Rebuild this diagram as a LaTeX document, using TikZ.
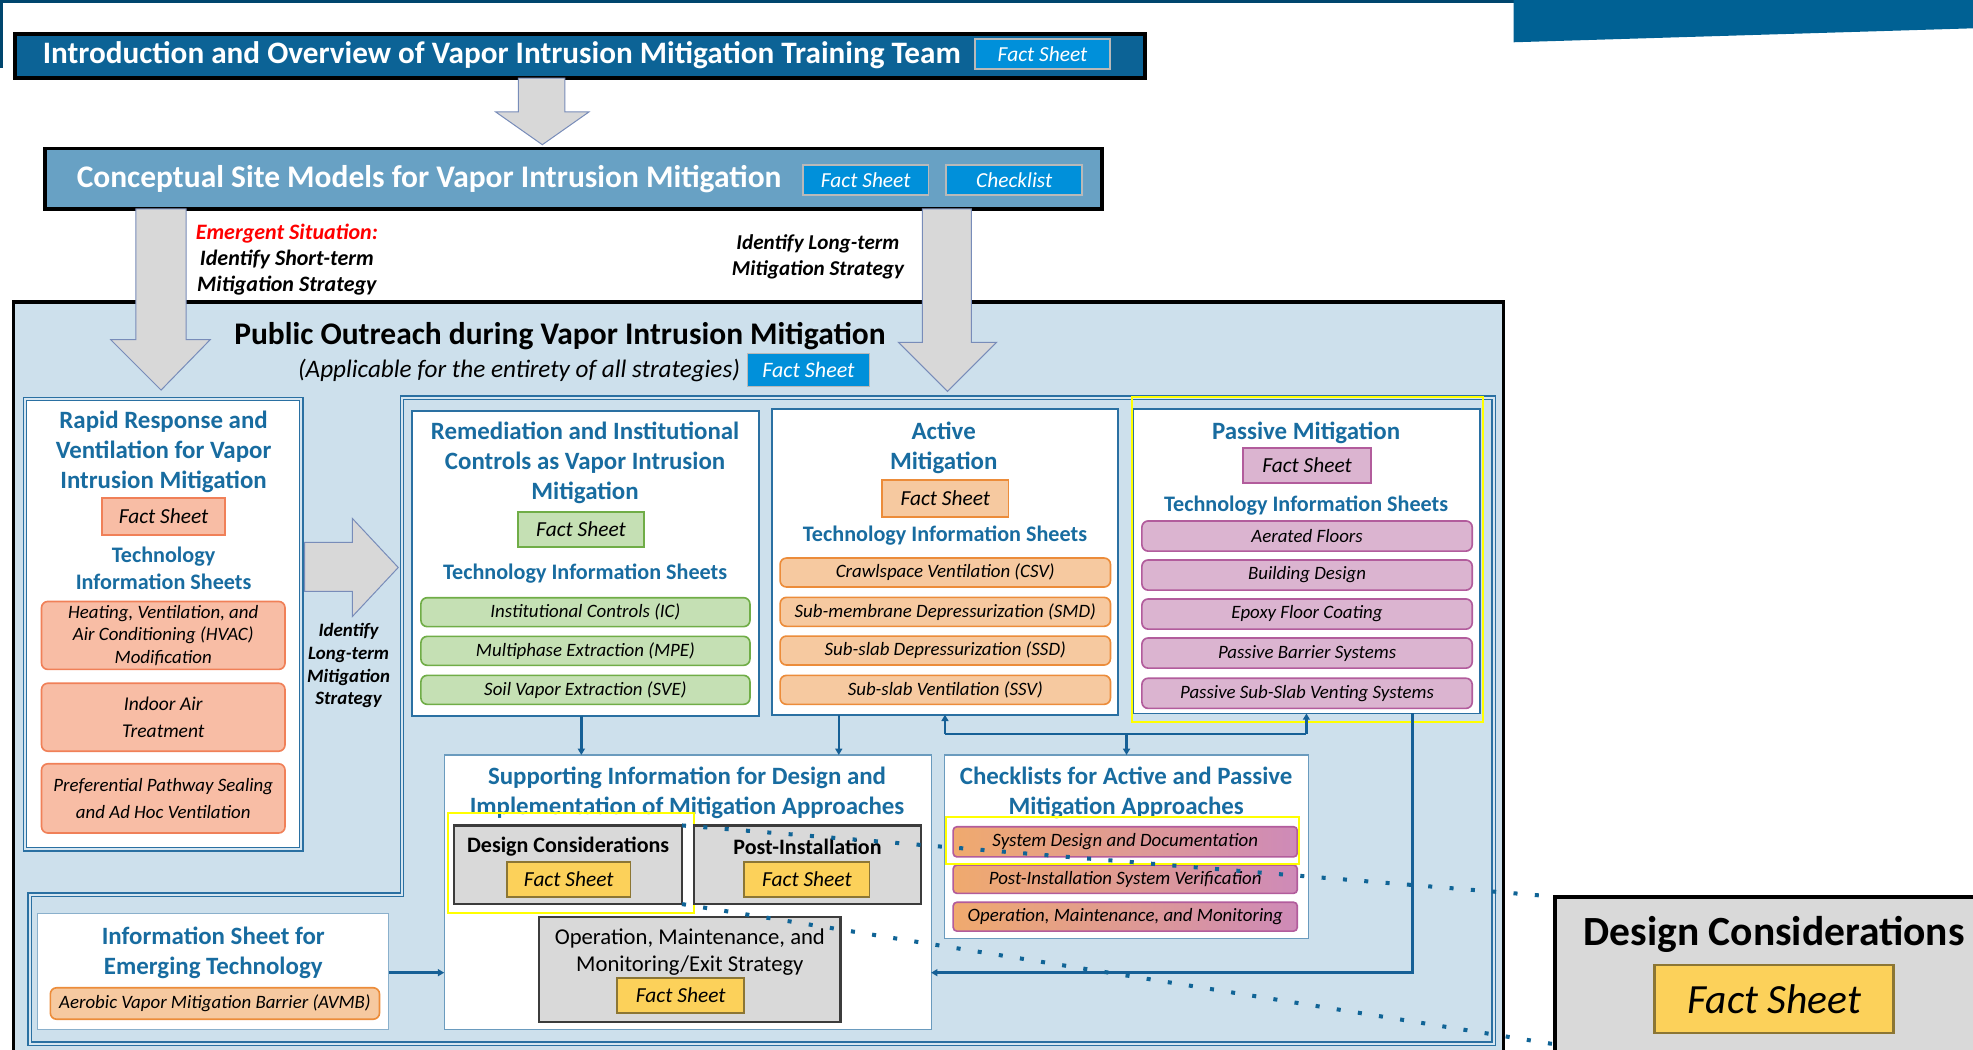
\documentclass[tikz,border=0pt]{standalone}
\usepackage{fontspec}
\setmainfont{Carlito}
\usetikzlibrary{arrows.meta,calc}
\definecolor{navy}{RGB}{0,70,110}
\definecolor{banner}{RGB}{0,97,148}
\definecolor{introfill}{RGB}{12,99,150}
\definecolor{csmfill}{RGB}{104,161,196}
\definecolor{btnblue}{RGB}{0,144,218}
\definecolor{bgblue}{RGB}{205,224,236}
\definecolor{framecol}{RGB}{42,112,162}
\definecolor{gapcol}{RGB}{214,230,241}
\definecolor{titleblue}{RGB}{24,108,160}
\definecolor{connblue}{RGB}{22,96,150}
\definecolor{salmonF}{RGB}{248,189,165}
\definecolor{salmonD}{RGB}{240,128,88}
\definecolor{greenF}{RGB}{197,224,180}
\definecolor{greenD}{RGB}{112,173,71}
\definecolor{peachF}{RGB}{246,201,160}
\definecolor{peachD}{RGB}{236,140,58}
\definecolor{pinkF}{RGB}{219,180,208}
\definecolor{pinkD}{RGB}{178,92,156}
\definecolor{grayF}{RGB}{217,217,217}
\definecolor{grayD}{RGB}{60,60,60}
\definecolor{goldF}{RGB}{252,209,90}
\definecolor{goldD}{RGB}{140,118,52}
\definecolor{arrowF}{RGB}{216,216,216}
\definecolor{arrowD}{RGB}{120,140,185}
\definecolor{dotcol}{RGB}{16,100,150}
\definecolor{gradL}{RGB}{240,170,110}
\definecolor{gradR}{RGB}{206,138,184}
\definecolor{emred}{RGB}{255,0,0}
\definecolor{hilite}{RGB}{255,255,0}
\newcommand\fsz[2]{\fontsize{#1}{#2}\selectfont}
\begin{document}
\begin{tikzpicture}[x=1pt,y=-1pt,
  every node/.style={inner sep=0pt, outer sep=0pt},
  hbtn/.style={fill=btnblue, draw=gray!55, line width=1.2pt, text=white, font=\fsz{17}{19}\itshape},
  garrow/.style={fill=arrowF, draw=arrowD, line width=0.8pt, line join=miter},
  panel/.style={draw=framecol, line width=1.4pt, fill=white},
  dpanel/.style={draw=framecol, line width=1pt, double=gapcol, double distance=1.6pt, fill=white},
  ptitle/.style={text=titleblue, font=\fsz{19.8}{24}\bfseries, align=center},
  tis/.style={text=titleblue, font=\fsz{17.6}{21}\bfseries, align=center},
  item/.style={rounded corners=5pt, line width=1.3pt, align=center, font=\fsz{15}{18}\itshape},
  fsbox/.style={line width=1.3pt, font=\fsz{17}{19}\itshape},
  salmon/.style={fill=salmonF, draw=salmonD},
  green/.style={fill=greenF, draw=greenD},
  peach/.style={fill=peachF, draw=peachD},
  pink/.style={fill=pinkF, draw=pinkD},
  graybox/.style={fill=grayF, draw=grayD, line width=1.8pt},
  goldfs/.style={fill=goldF, draw=goldD, line width=1.3pt, font=\fsz{17}{19}\itshape},
  conn/.style={draw=connblue, line width=2pt, -{Triangle[length=5pt,width=5.5pt]}},
  plain/.style={draw=connblue, line width=2pt},
  hl/.style={draw=hilite, line width=1.5pt},
  dots/.style={draw=dotcol, line width=3.2pt, dash pattern=on 3.2pt off 13.8pt}
]
\useasboundingbox (0,0) rectangle (1568,834);
% top decoration
\fill[navy] (0,0) rectangle (1203,2.5);
\fill[navy] (0,0) rectangle (2,54);
\fill[banner] (1203,0) -- (1568,0) -- (1568,22.5) -- (1203,33.6) -- cycle;

% intro
\node[draw=black, line width=2.6pt, fill=introfill, minimum width=898pt, minimum height=35pt] (intro) at (461,44.5) {};
\node[anchor=west, font=\fsz{24.8}{26}\bfseries, text=white] (introtxt) at (34,44) {Introduction and Overview of Vapor Intrusion Mitigation Training Team};
\node[hbtn, minimum width=107pt, minimum height=24pt] (introfs) at (828.5,43) {Fact Sheet};

\draw[garrow] (412,62) -- (449,62) -- (449,89) -- (468,89) -- (431,115) -- (394,89) -- (412,89) -- cycle;

% CSM
\node[draw=black, line width=3pt, fill=csmfill, minimum width=840pt, minimum height=48pt] (csm) at (456,142) {};
\node[anchor=west, font=\fsz{25}{27}\bfseries, text=white] (csmtxt) at (61,142) {Conceptual Site Models for Vapor Intrusion Mitigation};
\node[hbtn, minimum width=100pt, minimum height=24pt] (csmfs) at (688,143) {Fact Sheet};
\node[hbtn, minimum width=108pt, minimum height=24pt] (csmck) at (806,143) {Checklist};

% outer public outreach box
\node[draw=black, line width=2.6pt, fill=bgblue, minimum width=1184pt, minimum height=620pt, anchor=north west] (outer) at (11,240) {};
\draw[framecol, line width=1pt, double=gapcol, double distance=1.6pt] (319.5,316) -- (1187,316) -- (1187,829.5) -- (23.5,829.5) -- (23.5,711) -- (319.5,711) -- cycle;

% big arrows
\draw[garrow] (108,166) -- (148,166) -- (148,270) -- (167,270) -- (128,310) -- (88,270) -- (108,270) -- cycle;
\draw[garrow] (733,166) -- (772,166) -- (772,272) -- (792,272) -- (753,311) -- (714,272) -- (733,272) -- cycle;

\node[font=\fsz{17.5}{20.7}\bfseries\itshape, align=center] (emerg) at (228,206) {\textcolor{emred}{Emergent Situation:}\\Identify Short-term\\Mitigation Strategy};
\node[font=\fsz{16.8}{20.7}\bfseries\itshape, align=center] (longt) at (650,204) {Identify Long-term\\Mitigation Strategy};

\node[font=\fsz{25}{27}\bfseries] (potitle) at (445,267.5) {Public Outreach during Vapor Intrusion Mitigation};
\node[font=\fsz{20}{22}\itshape] (poapp) at (412.5,294.5) {(Applicable for the entirety of all strategies)};
\node[hbtn, minimum width=97pt, minimum height=26pt, font=\fsz{17.5}{19}\itshape] (pofs) at (642.5,294) {Fact Sheet};

% Rapid response panel
\node[dpanel, minimum width=219.5pt, minimum height=358pt] (rapid) at (129.75,496) {};
\node[ptitle] (rapidt) at (130,359) {Rapid Response and\\Ventilation for Vapor\\Intrusion Mitigation};
\node[fsbox, salmon, minimum width=98pt, minimum height=29pt] (rapidfs) at (130,410.5) {Fact Sheet};
\node[tis] (rapidtis) at (130,451.5) {Technology\\Information Sheets};
\node[item, salmon, minimum width=193.5pt, minimum height=54pt, font=\fsz{15}{18}\itshape] (hvac) at (129.75,505) {Heating, Ventilation, and\\Air Conditioning (HVAC)\\Modification};
\node[item, salmon, minimum width=193.5pt, minimum height=54pt, font=\fsz{15.5}{21}\itshape] (indoor) at (129.75,570) {Indoor Air\\Treatment};
\node[item, salmon, minimum width=193.5pt, minimum height=55pt, font=\fsz{15}{21}\itshape] (pref) at (129.75,634.5) {Preferential Pathway Sealing\\and Ad Hoc Ventilation};

\draw[garrow] (242,431) -- (280,431) -- (280,412) -- (316.5,451) -- (280,490) -- (280,470) -- (242,470) -- cycle;
\node[font=\fsz{15}{18}\bfseries\itshape, align=center] (longt2) at (277,529) {Identify\\Long-term\\Mitigation\\Strategy};

% Remediation panel
\node[panel, minimum width=275.5pt, minimum height=242.5pt] (rem) at (465.25,447.75) {};
\node[ptitle] (remt) at (465,368) {Remediation and Institutional\\Controls as Vapor Intrusion\\Mitigation};
\node[fsbox, green, minimum width=100.5pt, minimum height=27.5pt] (remfs) at (461.75,420.75) {Fact Sheet};
\node[tis] (remtis) at (465,456) {Technology Information Sheets};
\node[item, green, minimum width=261.5pt, minimum height=23pt] (ic) at (465.25,486.5) {Institutional Controls (IC)};
\node[item, green, minimum width=261.5pt, minimum height=23pt] (mpe) at (465.25,517.25) {Multiphase Extraction (MPE)};
\node[item, green, minimum width=261.5pt, minimum height=23pt] (sve) at (465.25,548.25) {Soil Vapor Extraction (SVE)};

% Active panel
\node[panel, minimum width=275pt, minimum height=243pt] (active) at (751,446.5) {};
\node[ptitle] (activet) at (750,356) {Active\\Mitigation};
\node[fsbox, peach, minimum width=100.5pt, minimum height=29.5pt] (activefs) at (751.25,396.25) {Fact Sheet};
\node[tis] (activetis) at (751,426) {Technology Information Sheets};
\node[item, peach, minimum width=262.5pt, minimum height=23pt] (csv) at (751.25,455) {Crawlspace Ventilation (CSV)};
\node[item, peach, minimum width=262.5pt, minimum height=23pt] (smd) at (751.25,486.25) {Sub-membrane Depressurization (SMD)};
\node[item, peach, minimum width=262.5pt, minimum height=23pt] (ssd) at (751.25,517) {Sub-slab Depressurization (SSD)};
\node[item, peach, minimum width=262.5pt, minimum height=23pt] (ssv) at (751.25,548.25) {Sub-slab Ventilation (SSV)};

% Passive panel
\node[panel, minimum width=275.5pt, minimum height=242pt] (passive) at (1038.25,446) {};
\draw[hl] (899.4,315.5) rectangle (1178.6,574);
\node[ptitle] (passivet) at (1038,344) {Passive Mitigation};
\node[fsbox, pink, minimum width=101.5pt, minimum height=28pt] (passivefs) at (1038.75,370) {Fact Sheet};
\node[tis] (passivetis) at (1038,402) {Technology Information Sheets};
\node[item, pink, minimum width=262.5pt, minimum height=24pt] (aer) at (1038.75,426) {Aerated Floors};
\node[item, pink, minimum width=262.5pt, minimum height=24pt] (bld) at (1038.75,457) {Building Design};
\node[item, pink, minimum width=262.5pt, minimum height=24pt] (epx) at (1038.75,488) {Epoxy Floor Coating};
\node[item, pink, minimum width=262.5pt, minimum height=24pt] (pbs) at (1038.75,519) {Passive Barrier Systems};
\node[item, pink, minimum width=262.5pt, minimum height=24pt] (pssv) at (1038.75,551) {Passive Sub-Slab Venting Systems};

% Supporting information
\node[draw=framecol!70, line width=1pt, fill=white, minimum width=387pt, minimum height=218pt] (supp) at (546.5,709) {};
\node[ptitle] (suppt) at (546,630) {Supporting Information for Design and\\Implementation of Mitigation Approaches};
\node[graybox, minimum width=181pt, minimum height=62.5pt] (design) at (451.5,687.25) {};
\node[font=\fsz{17.5}{20}\bfseries] (designt) at (451.5,673) {Design Considerations};
\node[goldfs, minimum width=98pt, minimum height=28pt] (designfs) at (452,699) {Fact Sheet};
\draw[hl] (356,646) rectangle (551.5,725.6);
\node[graybox, minimum width=180.5pt, minimum height=62.5pt] (post) at (641.75,687.25) {};
\node[font=\fsz{17.5}{20}\bfseries] (postt) at (641.75,673) {Post-Installation};
\node[goldfs, minimum width=99.5pt, minimum height=28pt] (postfs) at (641.25,699) {Fact Sheet};
\node[graybox, minimum width=239.5pt, minimum height=83pt] (om) at (548.25,770.5) {};
\node[font=\fsz{18}{21}, align=center] (omt) at (548.25,756.5) {Operation, Maintenance, and\\Monitoring/Exit Strategy};
\node[goldfs, minimum width=101pt, minimum height=28pt] (omfs) at (541,791) {Fact Sheet};

% Checklists
\node[draw=framecol!70, line width=1pt, fill=white, minimum width=289.4pt, minimum height=146pt] (check) at (895.3,673) {};
\node[ptitle] (checkt) at (895,630) {Checklists for Active and Passive\\Mitigation Approaches};
\node[item, rounded corners=3pt, left color=gradL, right color=gradR, draw=pinkD, minimum width=273.5pt, minimum height=24pt] (cl1) at (894.25,669) {System Design and Documentation};
\node[item, rounded corners=3pt, left color=gradL, right color=gradR, draw=pinkD, minimum width=273.5pt, minimum height=22.5pt] (cl2) at (894.25,698.75) {Post-Installation System Verification};
\node[item, rounded corners=3pt, left color=gradL, right color=gradR, draw=pinkD, minimum width=273.5pt, minimum height=23pt] (cl3) at (894.25,728.5) {Operation, Maintenance, and Monitoring};
\draw[hl] (752,649.5) rectangle (1032.5,686.6);

% Emerging technology
\node[draw=framecol!55, line width=1pt, fill=white, minimum width=279pt, minimum height=92pt] (info) at (169.5,772) {};
\node[ptitle] (infot) at (169.5,757.5) {Information Sheet for\\Emerging Technology};
\node[item, peach, minimum width=261.6pt, minimum height=25pt] (avmb) at (170.8,797.5) {Aerobic Vapor Mitigation Barrier (AVMB)};

% connectors
\coordinate (xr) at (462,0);
\coordinate (xa) at (666.6,0);
\coordinate (xf) at (1122.7,0);
\coordinate (yb) at (0,583.5);
\coordinate (yf) at (0,773);
\draw[conn] (rem.south -| xr) -- (supp.north -| xr);
\draw[conn] (active.south -| xa) -- (supp.north -| xa);
\draw[plain] (active.south |- yb) -- (passive.south |- yb);
\draw[conn] (active.south |- yb) -- (active.south);
\draw[conn] (passive.south |- yb) -- (passive.south);
\draw[conn] (check.north |- yb) -- (check.north);
\draw[conn] (passive.south -| xf) |- (supp.east |- yf);
\draw[conn] (info.east |- yf) -- (supp.west |- yf);

% zoom call-out
\node[draw=black, line width=3pt, fill=grayF, minimum width=345pt, minimum height=140pt, anchor=north west] (zoom) at (1236,712.6) {};
\node[anchor=base, font=\fsz{33}{36}\bfseries] (zoomt) at (1410,751.5) {Design Considerations};
\node[goldfs, line width=2pt, minimum width=190pt, minimum height=54pt, font=\fsz{33}{35}\itshape] (zoomfs) at (1410,794) {Fact Sheet};
\coordinate (zsw) at (1236,830);
\draw[dots] (design.north east) -- (zoom.north west);
\draw[dots] (design.south east) -- (zsw);
\end{tikzpicture}
\end{document}
